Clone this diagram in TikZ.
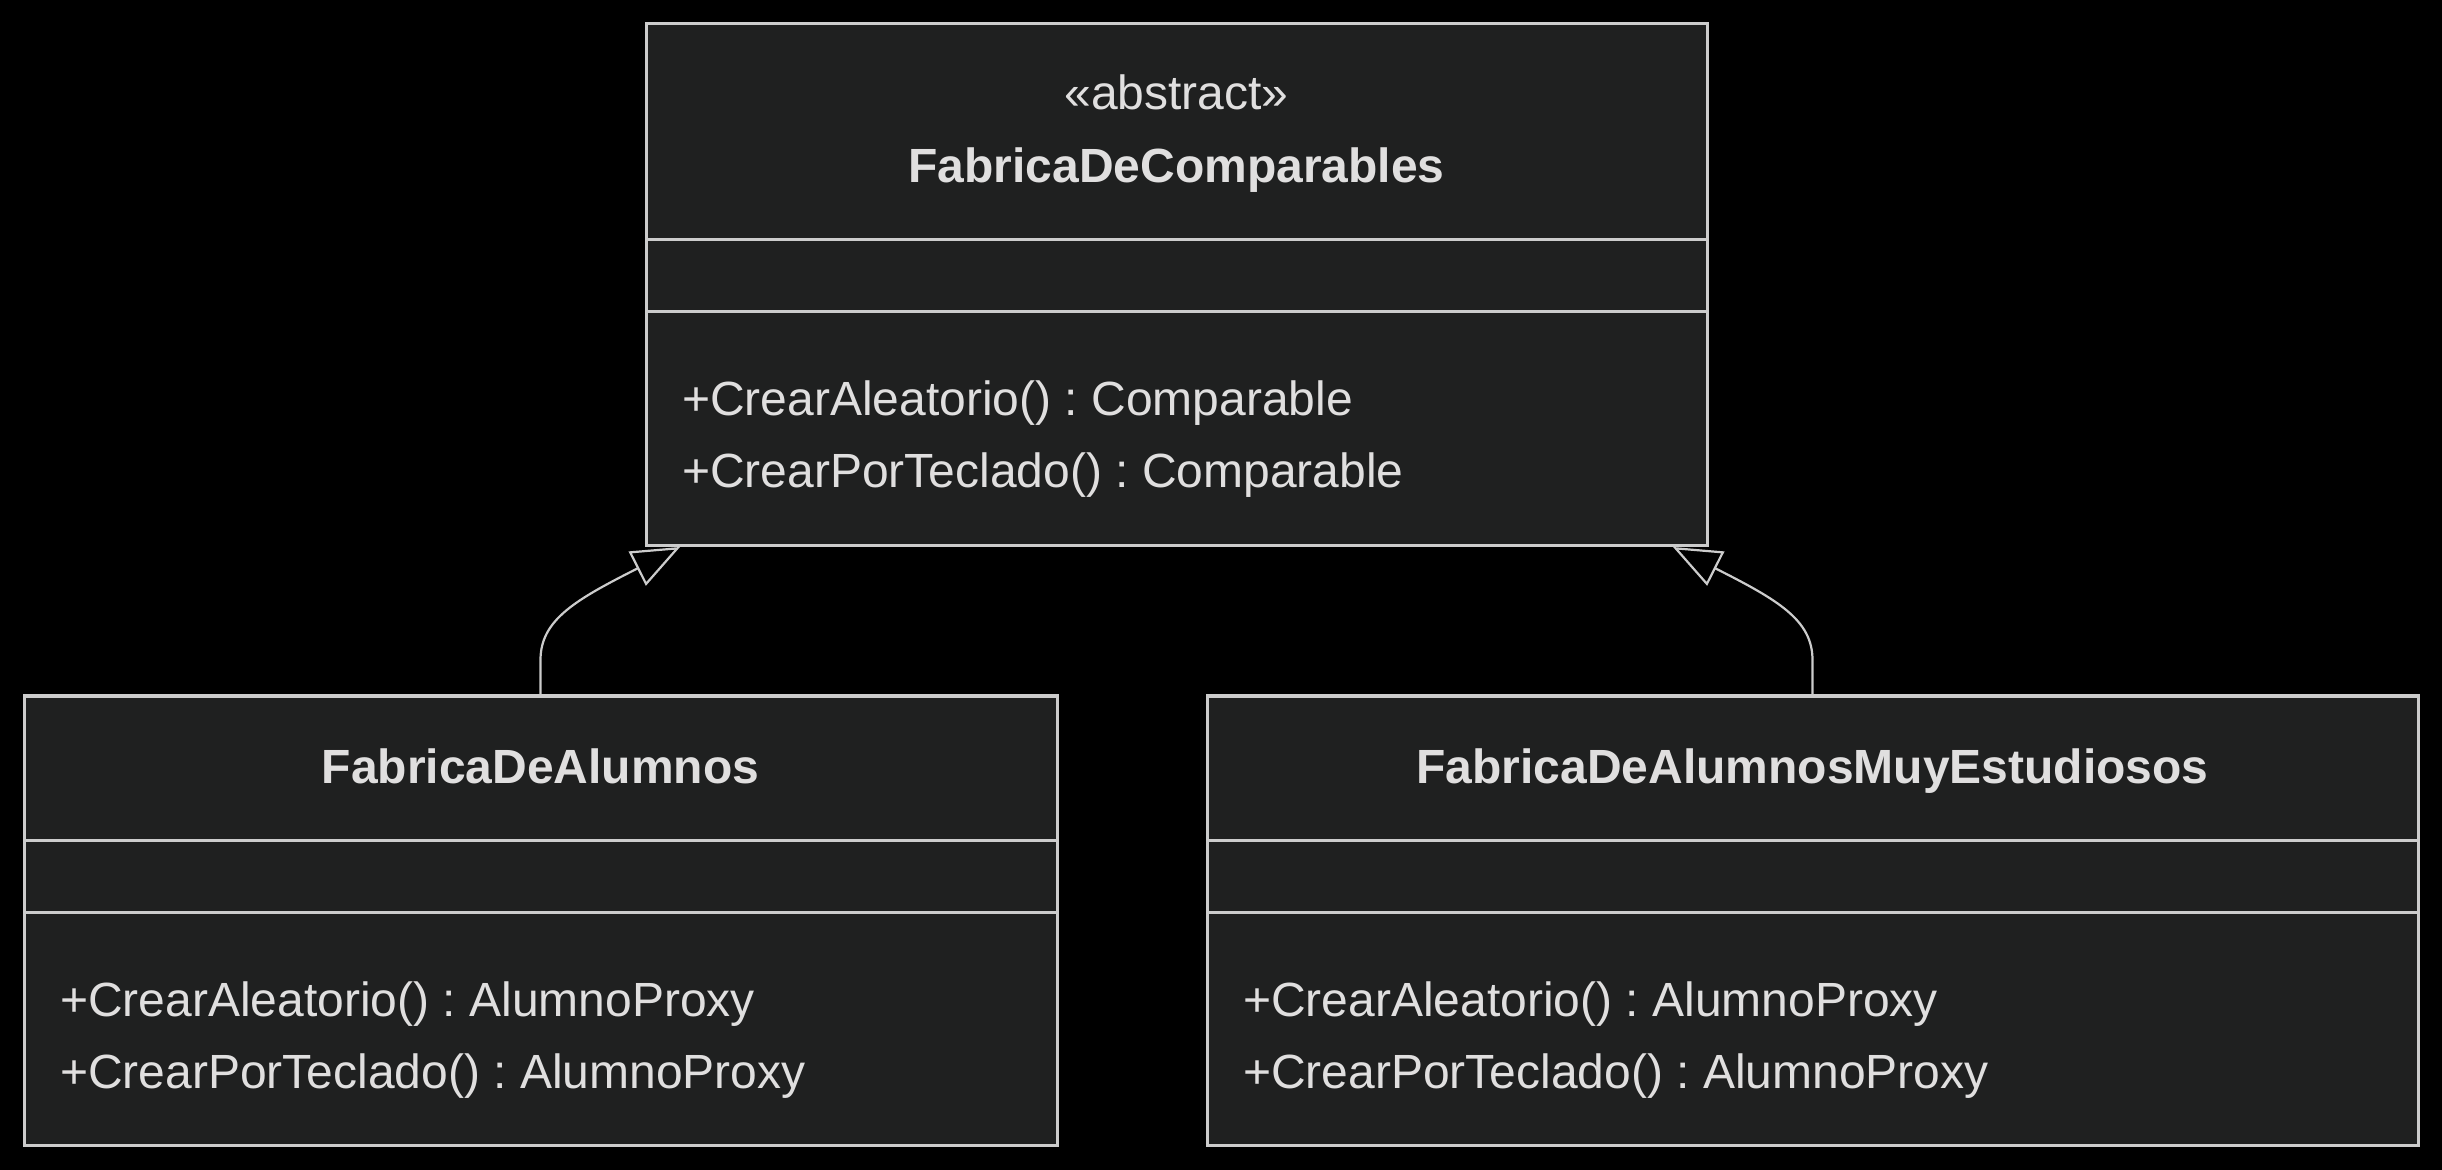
\documentclass[tikz,border=0pt]{standalone}
\usepackage{fontspec}
\setmainfont{Liberation Sans}
\usetikzlibrary{arrows.meta}
\definecolor{boxfill}{HTML}{1F2020}
\definecolor{boxline}{HTML}{CCCCCC}
\definecolor{txtcol}{HTML}{E0DFDF}
\frenchspacing
\begin{document}
\begin{tikzpicture}[x=0.5pt,y=-0.5pt,
  umlbox/.style={draw=boxline, fill=boxfill, line width=1.5pt, rectangle, inner sep=0pt, outer sep=0pt},
  divider/.style={draw=boxline, line width=1.5pt},
  txt/.style={text=txtcol, inner sep=0pt, outer sep=0pt, font=\fontsize{24}{36}\selectfont},
  btxt/.style={txt, font=\fontsize{24}{36}\selectfont\bfseries},
  inherit/.style={draw=boxline, line width=1.1pt, -{Triangle[open, length=24pt, width=19pt]}}
]
\useasboundingbox (0,0) rectangle (2442,1170);
\fill[black] (0,0) rectangle (2442,1170);

% boxes
\node[umlbox, minimum width=530.5pt, minimum height=261pt] (A) at (1176.5,285) {};
\node[umlbox, minimum width=516.5pt, minimum height=224.5pt] (B) at (540.5,920.5) {};
\node[umlbox, minimum width=605.5pt, minimum height=224.5pt] (C) at (1812.5,920.5) {};

% dividers
\draw[divider] (646,240) -- (1707,240);
\draw[divider] (646,312) -- (1707,312);
\draw[divider] (24,840) -- (1057,840);
\draw[divider] (24,912) -- (1057,912);
\draw[divider] (1207,840) -- (2418,840);
\draw[divider] (1207,912) -- (2418,912);

% texts A
\node[txt, anchor=base] (Astereo) at (1176.5,110) {«abstract»};
\node[btxt, anchor=base] (Aname) at (1176.5,183) {FabricaDeComparables};
\node[txt, anchor=base west] (Am1) at (682,416) {+CrearAleatorio() : Comparable};
\node[txt, anchor=base west] (Am2) at (682,488) {+CrearPorTeclado() : Comparable};

% texts B
\node[btxt, anchor=base] (Bname) at (540.5,783) {FabricaDeAlumnos};
\node[txt, anchor=base west] (Bm1) at (60,1016) {+CrearAleatorio() : AlumnoProxy};
\node[txt, anchor=base west] (Bm2) at (60,1088) {+CrearPorTeclado() : AlumnoProxy};

% texts C
\node[btxt, anchor=base] (Cname) at (1812.5,783) {FabricaDeAlumnosMuyEstudiosos};
\node[txt, anchor=base west] (Cm1) at (1243,1016) {+CrearAleatorio() : AlumnoProxy};
\node[txt, anchor=base west] (Cm2) at (1243,1088) {+CrearPorTeclado() : AlumnoProxy};

% connector end points
\coordinate (tipL) at (680,547);
\coordinate (tipR) at (1673,547);
\coordinate (bendL) at (540.5,660);
\coordinate (bendR) at (1812.5,660);

\draw[inherit] (B.north) -- (bendL) .. controls (540.5,620) and (575,600) .. (tipL);
\draw[inherit] (C.north) -- (bendR) .. controls (1812.5,620) and (1778,600) .. (tipR);
\end{tikzpicture}
\end{document}
